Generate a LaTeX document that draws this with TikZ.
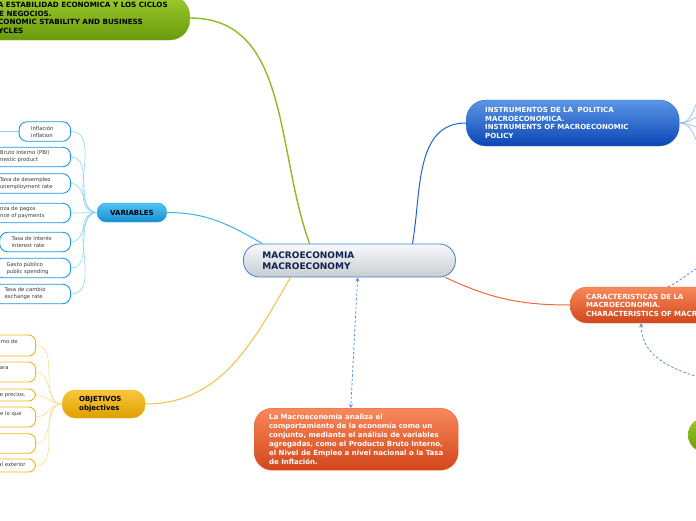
\documentclass[tikz,border=0pt]{standalone}
\usepackage{fontspec}
\setmainfont{DejaVu Sans}
\usepackage{xcolor}
\usepackage{tikz}
\usetikzlibrary{arrows.meta}

\definecolor{hubTop}{HTML}{F8F9FB}
\definecolor{hubBot}{HTML}{C8CCD1}
\definecolor{hubEdge}{HTML}{3A84CC}
\definecolor{hubText}{HTML}{0E2250}
\definecolor{greenTop}{HTML}{9CCB2C}
\definecolor{greenBot}{HTML}{689A0C}
\definecolor{greenEdge}{HTML}{86B81C}
\definecolor{greenLink}{HTML}{8CBE20}
\definecolor{varTop}{HTML}{52C4F4}
\definecolor{varBot}{HTML}{1590D2}
\definecolor{varEdge}{HTML}{1A98DC}
\definecolor{varLink}{HTML}{3CB4EC}
\definecolor{varTwig}{HTML}{8CD2F2}
\definecolor{blueTop}{HTML}{5C96E6}
\definecolor{blueBot}{HTML}{0A46B4}
\definecolor{blueEdge}{HTML}{2A66C8}
\definecolor{blueLink}{HTML}{1E63D2}
\definecolor{blueTwig}{HTML}{8AB6F0}
\definecolor{redTop}{HTML}{F8895C}
\definecolor{redBot}{HTML}{D2461A}
\definecolor{redEdge}{HTML}{E2643A}
\definecolor{redLink}{HTML}{F0683A}
\definecolor{yelTop}{HTML}{FAC63C}
\definecolor{yelBot}{HTML}{DDA000}
\definecolor{yelEdge}{HTML}{F0B412}
\definecolor{yelLink}{HTML}{F6C040}
\definecolor{yelTwig}{HTML}{F8DC94}
\definecolor{leafText}{HTML}{3A3A3A}
\definecolor{dashBlue}{HTML}{5A8BE0}

\begin{document}
\begin{tikzpicture}[x=1pt, y=-1pt, >=Stealth,
  boxfont/.style={font=\bfseries\fontsize{7}{8.5}\selectfont},
  hub/.style={rounded corners=16pt, draw=hubEdge, line width=0.8pt, top color=hubTop, bottom color=hubBot,
    text=hubText, font=\bfseries\fontsize{9}{11}\selectfont, align=left, inner ysep=0pt},
  greenbox/.style={boxfont, rounded corners=20pt, draw=greenEdge, top color=greenTop, bottom color=greenBot,
    text=black, align=left, inner ysep=0pt},
  varbox/.style={boxfont, rounded corners=9pt, draw=varEdge, top color=varTop, bottom color=varBot,
    text=black, inner xsep=13pt, inner ysep=0pt},
  yelbox/.style={boxfont, rounded corners=13pt, draw=yelEdge, top color=yelTop, bottom color=yelBot,
    text=black, align=left, inner ysep=0pt},
  bluebox/.style={boxfont, rounded corners=20pt, draw=blueEdge, top color=blueTop, bottom color=blueBot,
    text=white, align=left, inner ysep=0pt},
  redbox/.style={boxfont, rounded corners=17pt, draw=redEdge, top color=redTop, bottom color=redBot,
    text=white, align=left, inner ysep=0pt},
  varleaf/.style={draw=varEdge, fill=white, line width=0.9pt, rounded corners=8pt, anchor=east, align=left,
    inner xsep=12pt, inner ysep=0pt, minimum height=19.5pt, text=leafText, font=\fontsize{5.3}{7}\selectfont},
  objleaf/.style={draw=yelEdge, fill=white, line width=0.9pt, rounded corners=7pt, anchor=east, align=left,
    inner xsep=10pt, inner ysep=0pt, minimum height=20pt, text=leafText, font=\fontsize{5.3}{7}\selectfont},
  branch/.style={line width=1pt},
  varTwigLine/.style={varTwig, line width=0.6pt},
  yelTwigLine/.style={yelTwig, line width=0.6pt},
  dashlink/.style={dashBlue, line width=0.8pt, dash pattern=on 2.5pt off 2pt, arrows={[length=4pt, width=4pt]}}]

  \useasboundingbox (0,0) rectangle (696,520);
  \clip (0,0) rectangle (696,520);

  \node[hub, anchor=west, minimum width=212pt, minimum height=33pt, text width=174pt, inner xsep=19pt] (macro)
    at (243,260.5) {MACROECONOMIA\\MACROECONOMY};

  \node[greenbox, anchor=east, minimum height=44pt, inner xsep=15pt, font=\bfseries\fontsize{7.2}{8.5}\selectfont] (ciclos)
    at (190,18) {LA ESTABILIDAD ECONOMICA Y LOS CICLOS\rule{7pt}{0pt}\\DE NEGOCIOS.\\ECONOMIC STABILITY AND BUSINESS\\CYCLES};
  \node[varbox, anchor=west, minimum width=69pt, minimum height=19pt] (variables) at (97,212.5) {VARIABLES};
  \node[yelbox, anchor=west, minimum height=28pt, text width=49pt, inner xsep=17pt] (objetivos) at (62,404)
    {OBJETIVOS\\objectives};
  \node[bluebox, anchor=west, minimum height=46pt, text width=175pt, inner xsep=19pt] (instrumentos) at (466,123)
    {INSTRUMENTOS DE LA~ POLITICA\\MACROECONOMICA.\\INSTRUMENTS OF MACROECONOMIC\\POLICY};
  \node[redbox, anchor=west, minimum height=36pt, text width=200pt, inner xsep=16pt] (caracteristicas) at (570,305)
    {CARACTERISTICAS DE LA\\MACROECONOMIA.\\CHARACTERISTICS OF MACROECONOMICS};
  \node[redbox, rounded corners=18pt, anchor=north west, minimum width=204pt, minimum height=62pt, inner xsep=14pt,
    font=\bfseries\fontsize{7}{9}\selectfont] (resumen) at (254,408)
    {La Macroeconomía analiza el\\comportamiento de la economía como un\\conjunto, mediante el análisis de variables\\agregadas, como el Producto Bruto Interno,\\el Nivel de Empleo a nivel nacional o la Tasa\\de Inflación.};
  \node[greenbox, anchor=west, minimum width=60pt, minimum height=34pt, rounded corners=17pt] (otro) at (688,435) {};

  \node[varleaf] (inflacion) at (71,131.5) {Inflación\rule{5pt}{0pt}\\inflation};
  \node[varleaf] (pbi) at (71,157) {Producto Bruto Interno (PBI)\rule{9pt}{0pt}\\Gross domestic product};
  \node[varleaf] (desempleo) at (71,183.5) {Tasa de desempleo\\unemployment rate\rule{6pt}{0pt}};
  \node[varleaf] (balanza) at (71,213) {Balanza de pagos\\Balance of payments\rule{14pt}{0pt}};
  \node[varleaf] (interes) at (71,242) {Tasa de interés\rule{7pt}{0pt}\\interest rate};
  \node[varleaf] (gasto) at (71,268) {Gasto público\\public spending\rule{10pt}{0pt}};
  \node[varleaf] (cambio) at (71,294) {Tasa de cambio\rule{13pt}{0pt}\\exchange rate};

  \node[objleaf, minimum height=21pt] (crecimiento) at (36,345.5) {Crecimiento del producto interno de\rule{8pt}{0pt}\\la economía};
  \node[objleaf] (empleo) at (36,372) {Generar empleo suficiente para\rule{17pt}{0pt}\\toda la población};
  \node[objleaf, minimum height=12pt] (precios) at (36,395) {Estabilidad de precios.};
  \node[objleaf] (superavit) at (36,417) {Producir más de lo que\rule{4pt}{0pt}\\se consume};
  \node[objleaf, minimum height=19.5pt] (distribucion) at (36,443.5) {Distribución equitativa\rule{31pt}{0pt}\\de la renta};
  \node[objleaf, minimum height=13pt] (exterior) at (36,465.5) {Equilibrio comercial exterior};

  \coordinate (inflOut) at (-12,131.5);
  \coordinate (fanA) at (712,88);
  \coordinate (fanB) at (712,112);
  \coordinate (fanC) at (712,131);
  \coordinate (fanD) at (712,154);
  \coordinate (dashUp) at (712,262);
  \coordinate (dashDown) at (716,382);

  \draw[greenLink, line width=1.4pt] (ciclos.east) to[out=0, in=110] (macro.157);
  \draw[branch, varLink] (variables.east) to[out=0, in=150] (macro.169);
  \draw[branch, yelLink] (objetivos.east) to[out=0, in=240] (macro.196);
  \draw[branch, blueLink] (macro.15) to[out=80, in=180] (instrumentos.west);
  \draw[branch, redLink] (macro.-10) to[out=-25, in=180] (caracteristicas.west);

  \draw[varTwigLine] (variables.west) to[out=180, in=0] (inflacion.east);
  \draw[varTwigLine] (variables.west) to[out=180, in=0] (pbi.east);
  \draw[varTwigLine] (variables.west) to[out=180, in=0] (desempleo.east);
  \draw[varTwigLine] (variables.west) to[out=180, in=0] (balanza.east);
  \draw[varTwigLine] (variables.west) to[out=180, in=0] (interes.east);
  \draw[varTwigLine] (variables.west) to[out=180, in=0] (gasto.east);
  \draw[varTwigLine] (variables.west) to[out=180, in=0] (cambio.east);
  \draw[varTwigLine] (inflacion.west) -- (inflOut);

  \draw[yelTwigLine] (objetivos.west) to[out=180, in=0] (crecimiento.east);
  \draw[yelTwigLine] (objetivos.west) to[out=180, in=0] (empleo.east);
  \draw[yelTwigLine] (objetivos.west) to[out=180, in=0] (precios.east);
  \draw[yelTwigLine] (objetivos.west) to[out=180, in=0] (superavit.east);
  \draw[yelTwigLine] (objetivos.west) to[out=180, in=0] (distribucion.east);
  \draw[yelTwigLine] (objetivos.west) to[out=180, in=0] (exterior.east);

  \draw[blueTwig, line width=0.6pt] (instrumentos.east) to[out=0, in=180] (fanA);
  \draw[blueTwig, line width=0.6pt] (instrumentos.east) to[out=0, in=180] (fanB);
  \draw[blueTwig, line width=0.6pt] (instrumentos.east) to[out=0, in=180] (fanC);
  \draw[blueTwig, line width=0.6pt] (instrumentos.east) to[out=0, in=180] (fanD);

  \draw[dashlink, <->] (macro.-64) -- (resumen.100);
  \draw[dashlink] (caracteristicas.135) to[out=25, in=195] (dashUp);
  \draw[dashlink, ->] (dashDown) to[out=165, in=-90] (caracteristicas.202);
\end{tikzpicture}
\end{document}
